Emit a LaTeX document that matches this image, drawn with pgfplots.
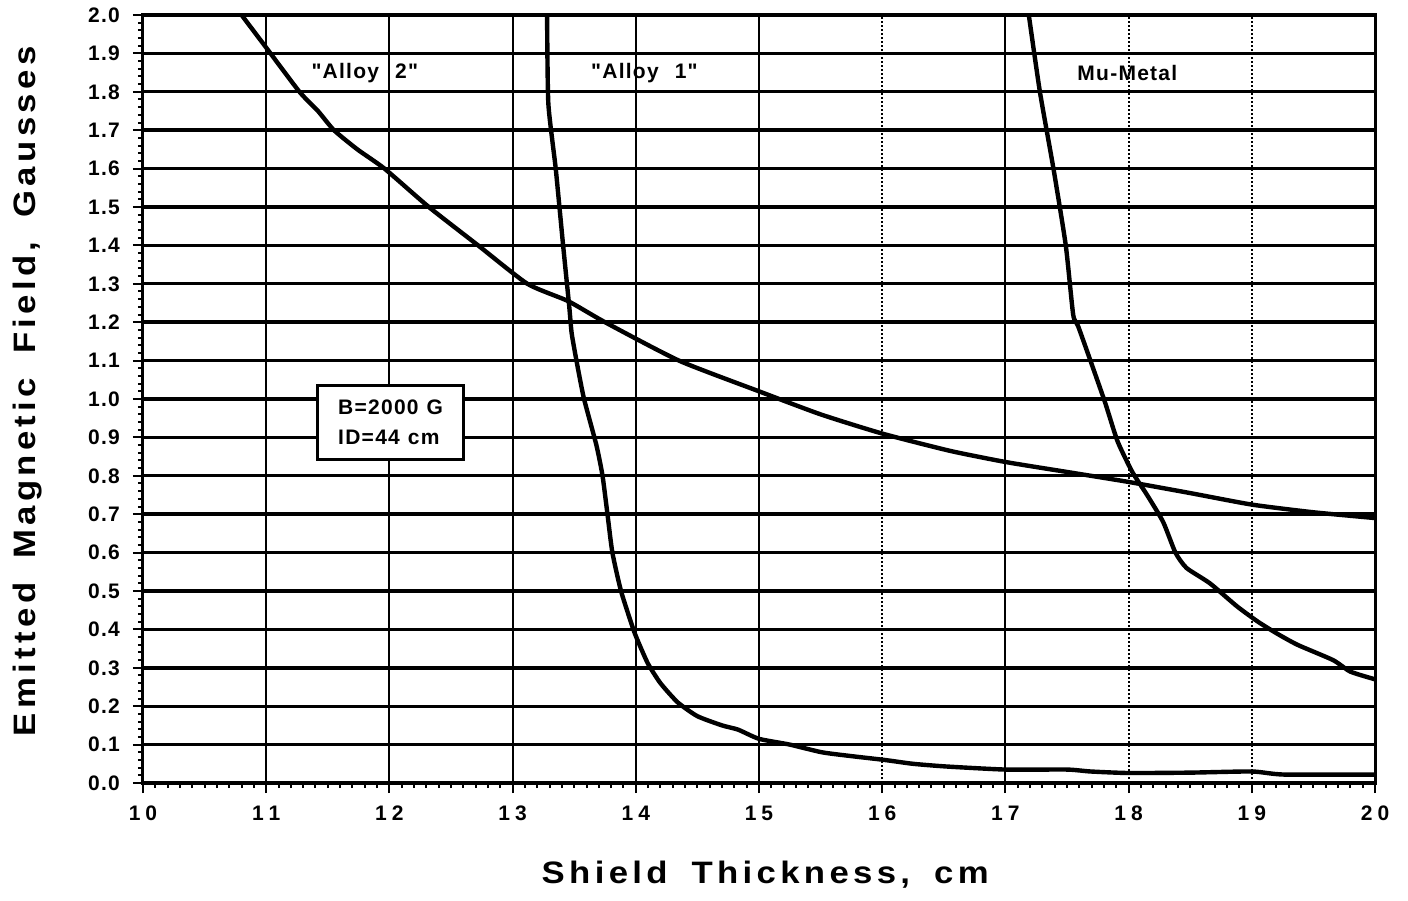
\documentclass[border=0pt]{standalone}
\usepackage{fontspec}
\setmainfont{Liberation Sans}
\newfontfamily\tfont[LetterSpace=6]{Liberation Sans}
\newfontfamily\lfont[FakeStretch=1.12,LetterSpace=14]{Liberation Sans}
\usepackage{pgfplots}
\pgfplotsset{compat=1.18}

\pgfplotstableread{
x y
10.80 2.00
11.00 1.915
11.27 1.80
11.42 1.75
11.55 1.70
11.74 1.65
11.96 1.60
12.32 1.50
12.72 1.40
13.12 1.30
13.45 1.255
13.75 1.20
14.35 1.10
15.00 1.02
15.50 0.96
16.00 0.91
16.55 0.865
17.00 0.836
17.50 0.810
18.00 0.784
18.50 0.755
19.00 0.725
19.50 0.705
20.00 0.690
}\alloytwo

\pgfplotstableread{
x y
13.28 2.00
13.29 1.77
13.35 1.60
13.41 1.40
13.46 1.24
13.48 1.17
13.53 1.08
13.58 1.00
13.68 0.88
13.73 0.80
13.77 0.70
13.81 0.60
13.88 0.50
13.98 0.40
14.03 0.36
14.10 0.31
14.20 0.26
14.34 0.21
14.50 0.174
14.70 0.150
14.83 0.139
15.00 0.115
15.25 0.100
15.51 0.080
15.75 0.070
16.02 0.060
16.25 0.050
16.52 0.043
17.00 0.035
17.50 0.035
17.69 0.030
18.00 0.026
18.50 0.027
19.00 0.030
19.26 0.022
20.00 0.022
}\alloyone

\pgfplotstableread{
x y
17.19 2.00
17.28 1.80
17.39 1.60
17.49 1.40
17.55 1.22
17.59 1.19
17.69 1.10
17.81 0.99
17.91 0.89
18.03 0.81
18.15 0.75
18.28 0.68
18.38 0.60
18.47 0.56
18.66 0.52
18.88 0.46
19.05 0.42
19.20 0.39
19.37 0.36
19.66 0.32
19.80 0.29
20.00 0.27
}\mumetal

\begin{document}
\begin{tikzpicture}
\begin{axis}[
  name=main,
  scale only axis,
  width=616pt, height=384pt,
  xmin=10, xmax=20, ymin=0, ymax=2,
  axis line style={line width=1.5pt},
  xtick={10,11,12,13,14,15,17},
  xticklabels={1\hspace{2.5pt}0,1\hspace{2.5pt}1,1\hspace{2.5pt}2,1\hspace{2.5pt}3,1\hspace{2.5pt}4,1\hspace{2.5pt}5,1\hspace{2.5pt}7},
  extra x ticks={16,18,19,20},
  extra x tick labels={1\hspace{2.5pt}6,1\hspace{2.5pt}8,1\hspace{2.5pt}9,2\hspace{2.5pt}0},
  extra x tick style={xmajorgrids=true, x grid style={densely dotted, line width=1pt}},
  minor xtick={10,10.1,...,20},
  ytick distance=0.1,
  minor y tick num=4,
  xtick pos=bottom, ytick pos=left,
  tick align=outside,
  major tick length=5pt,
  minor tick length=2.5pt,
  every tick/.style={line width=1pt, black},
  xmajorgrids=true, ymajorgrids=true,
  x grid style={line width=1pt, black},
  y grid style={line width=1.7pt, black},
  /pgf/number format/assume math mode=true,
  /pgf/number format/fixed,
  /pgf/number format/fixed zerofill,
  /pgf/number format/precision=1,
  ticklabel style={font=\tfont\bfseries\fontsize{10.5}{12}\selectfont},
  yticklabel style={xshift=-3pt},
  xticklabel style={yshift=-3pt},
  xlabel={Shield\hspace{12pt}Thickness,\hspace{12pt}cm},
  ylabel={Emitted\hspace{12pt}Magnetic\hspace{12pt}Field,\hspace{12pt}Gausses},
  xlabel style={at={(axis description cs:0.505,-0.12)}, anchor=center, font=\lfont\bfseries\fontsize{15.5}{18}\selectfont},
  ylabel style={at={(axis description cs:-0.0933,0.51)}, anchor=center, font=\lfont\bfseries\fontsize{15.5}{18}\selectfont},
]
\addplot[black, line width=2.2pt, smooth, tension=0.35] table[x=x,y=y] {\alloytwo};
\addplot[black, line width=2.2pt, smooth, tension=0.35] table[x=x,y=y] {\alloyone};
\addplot[black, line width=2.2pt, smooth, tension=0.35] table[x=x,y=y] {\mumetal};
\node[font=\tfont\bfseries\fontsize{10.5}{12}\selectfont] at (axis cs:11.80,1.85) {"Alloy\hspace{8pt}2"};
\node[font=\tfont\bfseries\fontsize{10.5}{12}\selectfont] at (axis cs:14.07,1.85) {"Alloy\hspace{8pt}1"};
\node[font=\tfont\bfseries\fontsize{10.5}{12}\selectfont] at (axis cs:17.99,1.85) {Mu-Metal};
\node[draw, line width=1.5pt, fill=white, align=left, inner sep=3pt,
      minimum width=73pt, minimum height=37pt,
      font=\tfont\bfseries\fontsize{10.5}{15}\selectfont] at (axis cs:12.01,0.94) {B=2000\hspace{4pt}G\\ID=44\hspace{4pt}cm};
\end{axis}
\path[use as bounding box] ([shift={(-71.5pt,-58.5pt)}]main.south west) rectangle ([shift={(632.5pt,391.5pt)}]main.south west);
\end{tikzpicture}
\end{document}
